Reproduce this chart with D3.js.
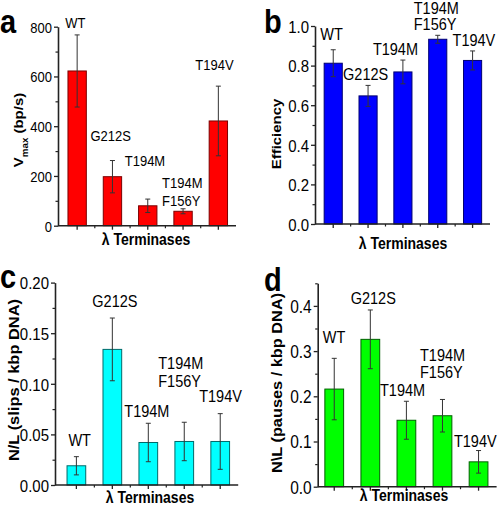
<!DOCTYPE html>
<html><head><meta charset="utf-8">
<script src="https://cdn.jsdelivr.net/npm/d3@7"></script>
<style>
body{margin:0;background:#fff}
svg{display:block}
text{font-family:"Liberation Sans",Arial,Helvetica,sans-serif;fill:#000}
</style>
</head><body>
<svg id="chart" width="500" height="508"></svg>
<script>
// ---------- data ----------
const categories = ["WT", "G212S", "T194M", "T194M F156Y", "T194V"];
const barLabels = [["WT"], ["G212S"], ["T194M"], ["T194M", "F156Y"], ["T194V"]];

const vmaxValues = [622, 197, 80, 58, 421];
const vmaxErrors = [145, 65, 27, 10, 140];

const effValues = [0.812, 0.647, 0.768, 0.933, 0.826];
const effErrors = [0.068, 0.053, 0.060, 0.020, 0.048];

const slipValues = [0.019, 0.134, 0.042, 0.043, 0.043];
const slipErrors = [0.009, 0.031, 0.019, 0.019, 0.0275];

const pauseValues = [0.216, 0.326, 0.147, 0.157, 0.055];
const pauseErrors = [0.068, 0.065, 0.042, 0.036, 0.025];

const vmaxTicks = [0, 200, 400, 600, 800];
const effTicks = [0, 0.2, 0.4, 0.6, 0.8, 1.0];
const slipTicks = [0, 0.05, 0.10, 0.15, 0.20];
const pauseTicks = [0, 0.1, 0.2, 0.3, 0.4];

const xTitle = "λ Terminases";

// ---------- layout ----------
const SY = 1.15; // vertical stretch of the original figure's text
const panels = [
  {letter: "a", letterPos: [0, 33], values: vmaxValues, errors: vmaxErrors, ticks: vmaxTicks,
   fmt: d3.format("d"), yMax: 800, minor: [100, 300, 500, 700],
   fill: "#ff0000", stroke: "#7a0000",
   axisX: 58, band: [59.5, 236], yRange: [225.7, 26.7],
   tickFont: 13, labelFont: 13, lineGap: 18,
   yTitle: [{t: "V", s: 13}, {t: "max", s: 8.5, sub: true}, {t: " (bp/s)", s: 13}],
   yTitlePos: [23, 130], xTitlePos: [146, 245],
   labelOff: [[-12, -7], [-22, -19.5], [-23, -33], [-21, -3], [-23, -16]]},
  {letter: "b", letterPos: [264, 33], values: effValues, errors: effErrors, ticks: effTicks,
   fmt: d3.format(".1f"), yMax: 1.0, minor: [0.1, 0.3, 0.5, 0.7, 0.9],
   fill: "#0000ff", stroke: "#000070",
   axisX: 315, band: [315.8, 490], yRange: [224, 26],
   tickFont: 15, labelFont: 14.5, lineGap: 15.5,
   yTitle: [{t: "Efficiency", s: 13}],
   yTitlePos: [281, 134], xTitlePos: [403, 249],
   labelOff: [[-13, -10], [-25, -5], [-30, -5], [-24, -5.5], [-20, -5]]},
  {letter: "c", letterPos: [0, 288], values: slipValues, errors: slipErrors, ticks: slipTicks,
   fmt: d3.format(".2f"), yMax: 0.20, minor: [0.025, 0.075, 0.125, 0.175],
   fill: "#00ffff", stroke: "#006a6a",
   axisX: 55, band: [58.4, 238.2], yRange: [485, 282.6],
   tickFont: 15, labelFont: 14.5, lineGap: 18,
   yTitle: [{t: "N/L (slips / kbp DNA)", s: 14.3}],
   yTitlePos: [19, 380], xTitlePos: [150, 503],
   labelOff: [[-8, -11], [-20, -11], [-24, -6], [-26, -35], [-21, -12]]},
  {letter: "d", letterPos: [264, 291], values: pauseValues, errors: pauseErrors, ticks: pauseTicks,
   fmt: d3.format(".1f"), yMax: 0.45, minor: [0.05, 0.15, 0.25, 0.35, 0.45],
   fill: "#00ff00", stroke: "#006000",
   axisX: 317.7, band: [316.2, 496.6], yRange: [486.7, 283.3],
   tickFont: 15.5, labelFont: 14.5, lineGap: 17,
   yTitle: [{t: "N\\L (pauses / kbp DNA)", s: 14.2}],
   yTitlePos: [282, 383], xTitlePos: [404, 501],
   labelOff: [[-11.5, -15.6], [-19.6, -6], [-26.4, -5], [-22.5, -21], [-24.6, -4]]}
];

const svg = d3.select("#chart");

panels.forEach(p => {
  const g = svg.append("g");
  const x = d3.scaleBand().domain(categories).range(p.band).paddingInner(0.48).paddingOuter(0.24);
  const y = d3.scaleLinear().domain([0, p.yMax]).range(p.yRange);
  const y0 = y(0);
  const bw = x.bandwidth();
  const step = x.step();
  const rows = categories.map((c, i) => ({c, v: p.values[i], e: p.errors[i], lab: barLabels[i], off: p.labelOff[i]}));

  // bars
  g.selectAll("rect.bar").data(rows).join("rect")
    .attr("x", d => x(d.c)).attr("y", d => y(d.v))
    .attr("width", bw).attr("height", d => y0 - y(d.v))
    .attr("fill", p.fill).attr("stroke", p.stroke).attr("stroke-width", 1);

  // error bars
  const eb = g.selectAll("g.eb").data(rows).join("g").attr("stroke", "#333").attr("stroke-width", 1);
  eb.append("line")
    .attr("x1", d => x(d.c) + bw / 2).attr("x2", d => x(d.c) + bw / 2)
    .attr("y1", d => y(d.v + d.e)).attr("y2", d => y(d.v - d.e));
  eb.append("line")
    .attr("x1", d => x(d.c) + bw / 2 - 2.5).attr("x2", d => x(d.c) + bw / 2 + 2.5)
    .attr("y1", d => y(d.v + d.e)).attr("y2", d => y(d.v + d.e));
  eb.append("line")
    .attr("x1", d => x(d.c) + bw / 2 - 2.5).attr("x2", d => x(d.c) + bw / 2 + 2.5)
    .attr("y1", d => y(d.v - d.e)).attr("y2", d => y(d.v - d.e));

  // y axis
  const ya = g.append("g").attr("transform", `translate(${p.axisX},0)`)
    .call(d3.axisLeft(y).tickValues(p.ticks).tickFormat(p.fmt).tickSize(4).tickSizeOuter(0));
  ya.select(".domain").attr("stroke", "#222").attr("stroke-width", 1.6);
  ya.selectAll(".tick line").attr("stroke", "#222").attr("stroke-width", 1.3);
  ya.selectAll(".tick text").attr("x", -6).attr("dy", "0.36em")
    .attr("font-size", p.tickFont).attr("font-family", '"Liberation Sans",Arial,sans-serif')
    .attr("transform", `scale(1,${SY})`).attr("fill", "#000");
  const ym = g.append("g").attr("transform", `translate(${p.axisX},0)`)
    .call(d3.axisLeft(y).tickValues(p.minor).tickFormat("").tickSize(2.5).tickSizeOuter(0));
  ym.select(".domain").remove();
  ym.selectAll(".tick line").attr("stroke", "#222").attr("stroke-width", 1.2);

  // x axis
  g.append("line").attr("x1", p.axisX).attr("x2", p.band[1])
    .attr("y1", y0).attr("y2", y0).attr("stroke", "#222").attr("stroke-width", 1.6);
  g.selectAll("line.xmaj").data(rows).join("line")
    .attr("x1", d => x(d.c) + bw / 2).attr("x2", d => x(d.c) + bw / 2)
    .attr("y1", y0).attr("y2", y0 + 4).attr("stroke", "#222").attr("stroke-width", 1.3);
  g.selectAll("line.xmin").data(rows.slice(0, -1)).join("line")
    .attr("x1", d => x(d.c) + bw / 2 + step / 2).attr("x2", d => x(d.c) + bw / 2 + step / 2)
    .attr("y1", y0).attr("y2", y0 + 2.5).attr("stroke", "#222").attr("stroke-width", 1.2);

  // bar labels
  rows.forEach(d => {
    const bx = x(d.c) + bw / 2 + d.off[0];
    const by = y(d.v + d.e) + d.off[1];
    const n = d.lab.length;
    d.lab.forEach((t, k) => {
      g.append("text")
        .attr("transform", `translate(${bx},${by - (n - 1 - k) * p.lineGap}) scale(1,${SY})`)
        .attr("font-size", p.labelFont).text(t);
    });
  });

  // x title
  g.append("text")
    .attr("transform", `translate(${p.xTitlePos[0]},${p.xTitlePos[1]}) scale(1,${SY})`)
    .attr("text-anchor", "middle").attr("font-weight", "bold").attr("font-size", 14)
    .text(xTitle);

  // y title
  const yt = g.append("text")
    .attr("transform", `translate(${p.yTitlePos[0]},${p.yTitlePos[1]}) scale(1,${SY}) rotate(-90)`)
    .attr("text-anchor", "middle").attr("font-weight", "bold");
  p.yTitle.forEach(part => {
    const ts = yt.append("tspan").attr("font-size", part.s).text(part.t);
    if (part.sub) ts.attr("baseline-shift", "sub");
  });

  // panel letter
  g.append("text")
    .attr("transform", `translate(${p.letterPos[0]},${p.letterPos[1]}) scale(1,${SY})`)
    .attr("font-weight", "bold").attr("font-size", 29).text(p.letter);
});
</script>
</body></html>
